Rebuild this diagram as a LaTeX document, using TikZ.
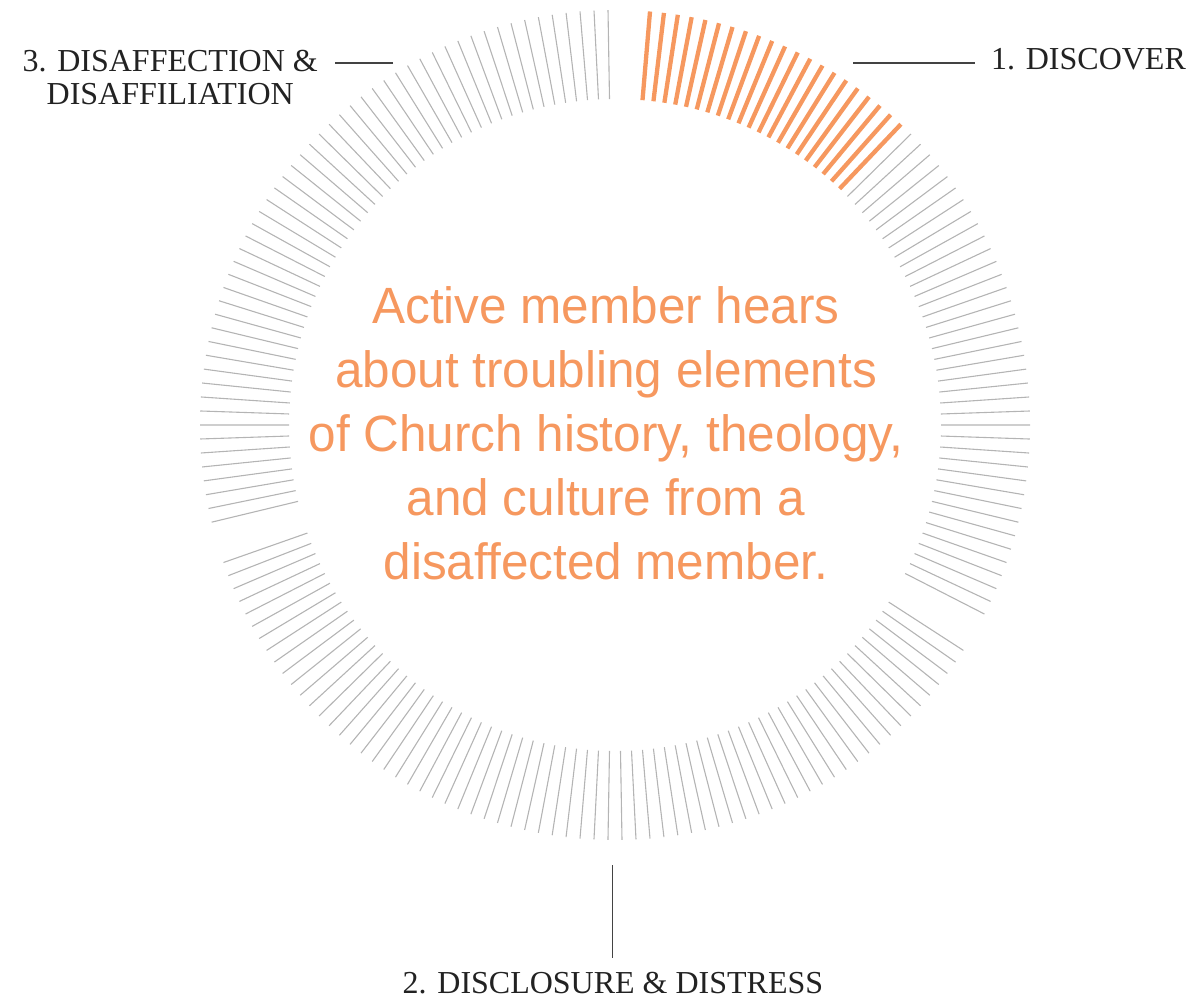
\documentclass[tikz,border=0pt]{standalone}
\usepackage{fontspec}
\setmainfont{Liberation Serif}
\newfontfamily\blurbfont[FakeStretch=0.97]{Liberation Sans}
\usetikzlibrary{calc}
\definecolor{hot}{HTML}{F6985F}
\definecolor{dial}{HTML}{B4B4B4}
\definecolor{ink}{HTML}{222222}

\begin{document}
\begin{tikzpicture}[x=1pt,y=-1pt,
  greytick/.style={dial,line width=1.1pt},
  hottick/.style={hot,line width=4.3pt},
  stagelabel/.style={ink,inner sep=0pt,font=\fontsize{32}{33}\selectfont},
  leader/.style={ink!85,line width=1.3pt}]
  \useasboundingbox (0,0) rectangle (1186,1000);
  \def\ringx{615}\def\ringy{425}\def\rin{326}\def\rout{415}

  % ring of 186 slots (360/186 = 1.935484 deg), two empty slots between stages
  \foreach \lo/\hi in {21/58,61/127,130/183}
    \foreach \k in {\lo,...,\hi} {
      \pgfmathsetmacro{\a}{85.16-\k*1.935484}
      \draw[greytick] ({\ringx+\rin*cos(\a)},{\ringy-\rin*sin(\a)}) -- ({\ringx+\rout*cos(\a)},{\ringy-\rout*sin(\a)});
    }
  % first stage, the part already reached
  \foreach \k in {0,...,20} {
    \pgfmathsetmacro{\a}{85.16-\k*1.935484}
    \draw[hottick] ({\ringx+\rin*cos(\a)},{\ringy-\rin*sin(\a)}) -- ({\ringx+\rout*cos(\a)},{\ringy-\rout*sin(\a)});
  }

  \node[hot,inner sep=0pt,align=center,font=\blurbfont\fontsize{51}{64}\selectfont] (blurb) at (606,433.5)
    {Active member hears\\about troubling elements\\of Church history, theology,\\and culture from a\\disaffected member.};

  \node[stagelabel,anchor=base west] (discover) at (991,70) {1. DISCOVER};
  \node[stagelabel,anchor=base] (disclosure) at (613,993) {2. DISCLOSURE \& DISTRESS};
  \node[stagelabel,align=center,anchor=east] (disaffection) at (318,78) {3. DISAFFECTION \&\\DISAFFILIATION};

  \coordinate (discend) at (853,63);
  \coordinate (disclend) at (612.5,865);
  \coordinate (disaffend) at (393,63);
  \draw[leader,shorten >=16pt] (discend) -- (discend -| discover.west);
  \draw[leader,shorten >=14pt] (disclend) -- (disclend |- disclosure.north);
  \draw[leader,shorten >=17pt] (disaffend) -- (disaffend -| disaffection.east);
\end{tikzpicture}
\end{document}
